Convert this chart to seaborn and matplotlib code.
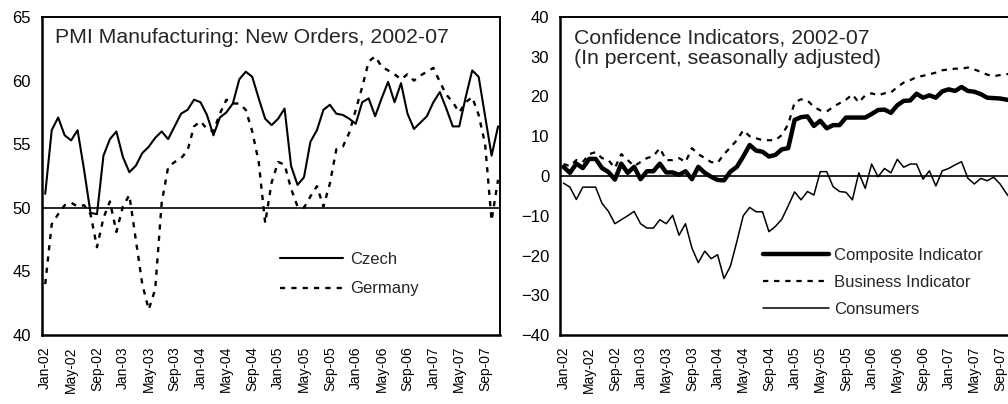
import numpy as np
import pandas as pd
import matplotlib
matplotlib.use("Agg")
import matplotlib.pyplot as plt
import seaborn as sns

tick_labels = ["Jan-02", "May-02", "Sep-02", "Jan-03", "May-03", "Sep-03",
               "Jan-04", "May-04", "Sep-04", "Jan-05", "May-05", "Sep-05",
               "Jan-06", "May-06", "Sep-06", "Jan-07", "May-07", "Sep-07"]

czech = [51.1, 56.1, 57.1, 55.7, 55.3, 56.1, 53.0, 49.6, 49.5, 54.1,
         55.4, 56.0, 54.0, 52.8, 53.3, 54.3, 54.8, 55.5, 56.0, 55.4,
         56.4, 57.4, 57.7, 58.5, 58.3, 57.3, 55.7, 57.1, 57.5, 58.2,
         60.1, 60.7, 60.3, 58.6, 57.0, 56.5, 57.0, 57.8, 53.3, 51.8,
         52.4, 55.2, 56.1, 57.7, 58.1, 57.4, 57.3, 57.0, 56.6, 58.3,
         58.6, 57.2, 58.6, 59.9, 58.3, 59.8, 57.4, 56.2, 56.7, 57.2,
         58.3, 59.1, 57.8, 56.4, 56.4, 58.7, 60.8, 60.3, 57.2, 54.1,
         56.4]

germany = [44.0, 48.7, 49.5, 50.2, 50.4, 50.1, 50.2, 49.5, 46.9, 49.2,
           50.5, 48.1, 50.1, 51.0, 47.5, 44.0, 42.0, 43.6, 50.4, 53.2,
           53.6, 53.9, 54.5, 56.4, 56.8, 56.2, 56.0, 57.4, 58.5, 58.2,
           58.2, 57.7, 56.0, 53.6, 48.8, 52.0, 53.6, 53.4, 51.5, 50.1,
           50.0, 50.9, 51.7, 50.1, 51.9, 54.6, 54.8, 55.9, 57.7, 59.5,
           61.5, 61.9, 61.1, 60.8, 60.5, 60.1, 60.5, 60.0, 60.4, 60.7,
           61.0, 59.9, 58.9, 58.3, 57.5, 58.3, 58.7, 57.3, 55.0, 49.0,
           52.2]

composite = [2.3, 0.8, 3.1, 2.0, 4.3, 4.3, 2.0, 1.0, -0.9, 3.1,
             0.8, 2.3, -0.8, 1.2, 1.2, 3.1, 0.9, 0.9, 0.3, 1.2,
             -0.8, 2.3, 0.8, -0.2, -1.0, -1.1, 1.1, 2.3, 4.9, 7.8,
             6.4, 6.1, 4.9, 5.3, 6.7, 7.0, 14.1, 14.8, 15.0, 12.6,
             13.9, 12.0, 12.8, 12.8, 14.7, 14.7, 14.7, 14.7, 15.6, 16.6,
             16.7, 15.9, 17.8, 18.9, 19.0, 20.7, 19.7, 20.3, 19.7, 21.3,
             21.8, 21.4, 22.4, 21.4, 21.2, 20.6, 19.7, 19.6, 19.5, 19.2,
             19.0]

business = [3.0, 2.5, 4.0, 3.5, 5.5, 6.0, 4.5, 4.0, 2.0, 5.5,
            4.0, 2.5, 3.5, 4.5, 5.0, 7.0, 4.0, 4.0, 4.5, 3.5,
            7.0, 5.5, 4.5, 3.5, 3.3, 5.5, 7.2, 9.0, 11.5, 10.0,
            9.5, 9.0, 9.0, 9.0, 10.3, 13.0, 18.5, 19.3, 19.0, 17.4,
            16.5, 16.2, 17.4, 18.3, 19.2, 20.5, 18.5, 20.3, 20.8, 20.3,
            20.8, 21.0, 22.4, 23.5, 24.1, 24.9, 25.2, 25.6, 26.0, 26.6,
            26.8, 27.0, 27.0, 27.3, 26.8, 26.2, 25.5, 25.1, 25.4, 25.6,
            25.8]

consumers = [-1.8, -2.8, -5.9, -2.8, -2.8, -2.8, -6.9, -8.9, -12.0, -11.0,
             -10.0, -8.9, -12.0, -13.1, -13.1, -11.0, -12.0, -9.9, -14.9, -12.0,
             -18.1, -21.8, -18.9, -20.8, -19.8, -25.8, -22.7, -16.5, -10.0, -7.9,
             -9.0, -9.0, -14.0, -12.7, -10.9, -7.5, -4.0, -6.0, -3.9, -4.8,
             1.1, 1.1, -2.7, -3.9, -4.1, -6.0, 0.8, -3.1, 3.0, -0.2,
             1.9, 0.8, 4.2, 2.2, 3.0, 3.0, -0.8, 1.3, -2.5, 1.3,
             1.9, 2.8, 3.6, -0.6, -2.0, -0.6, -1.2, -0.3, -2.0, -4.4,
             -6.5]

sns.set_style("white")
plt.rcParams['font.family'] = ['Liberation Sans', 'DejaVu Sans']

W, H = 1008, 404
fig = plt.figure(figsize=(W / 100, H / 100), dpi=100)
ax1 = fig.add_axes([42 / W, 69 / H, 458 / W, 318 / H])
ax2 = fig.add_axes([560.3 / W, 69 / H, 454.5 / W, 318 / H])

n = len(czech)
m = np.arange(n)
df1 = pd.DataFrame({"m": m, "Czech": czech, "Germany": germany})
df2 = pd.DataFrame({"m": m, "Composite Indicator": composite,
                    "Business Indicator": business, "Consumers": consumers})

ax1.axhline(50, color="black", lw=1.2, zorder=1)
sns.lineplot(data=df1, x="m", y="Czech", ax=ax1, color="black", lw=1.5,
             label="Czech")
sns.lineplot(data=df1, x="m", y="Germany", ax=ax1, color="black", lw=1.7,
             linestyle=(0, (2.2, 2.6)), label="Germany")

ax2.axhline(0, color="black", lw=1.2, zorder=1)
sns.lineplot(data=df2, x="m", y="Composite Indicator", ax=ax2, color="black",
             lw=3.2, label="Composite Indicator")
sns.lineplot(data=df2, x="m", y="Business Indicator", ax=ax2, color="black",
             lw=1.6, linestyle=(0, (2.4, 2.6)), label="Business Indicator")
sns.lineplot(data=df2, x="m", y="Consumers", ax=ax2, color="black", lw=1.1,
             label="Consumers")

major = np.arange(0, n, 4)[:len(tick_labels)]
for ax in (ax1, ax2):
    ax.set_xlim(-0.5, 70.3)
    ax.set_xticks(major)
    ax.set_xticklabels(tick_labels, rotation=90, fontsize=10)
    ax.set_xticks(m, minor=True)
    ax.tick_params(axis="x", which="both", direction="in", length=3.2,
                   width=0.9, color="black", pad=8, labelcolor="black")
    ax.tick_params(axis="y", which="major", direction="in", length=4,
                   width=1.0, color="black", pad=8, labelsize=12,
                   labelcolor="black")
    ax.set_xlabel("")
    ax.set_ylabel("")
    for s in ax.spines.values():
        s.set_color("black")
        s.set_linewidth(1.4)
    ax.spines["left"].set_linewidth(1.8)
    ax.spines["bottom"].set_linewidth(1.8)

ax1.set_ylim(40, 65)
ax1.set_yticks(np.arange(40, 66, 5))
ax2.set_ylim(-40, 40)
ax2.set_yticks(np.arange(-40, 41, 10))

ax1.text(0.028, 0.965, "PMI Manufacturing: New Orders, 2002-07",
         transform=ax1.transAxes, ha="left", va="top", fontsize=15.3)
ax2.text(0.031, 0.965, "Confidence Indicators, 2002-07\n(In percent, seasonally adjusted)",
         transform=ax2.transAxes, ha="left", va="top", fontsize=15.3,
         linespacing=1.15)

ax1.legend(loc="upper left", bbox_to_anchor=(0.52, 0.26), frameon=False,
           fontsize=12, handlelength=3.8, handletextpad=0.4,
           labelspacing=0.85, borderpad=0, borderaxespad=0)
ax2.legend(loc="upper left", bbox_to_anchor=(0.446, 0.275), frameon=False,
           fontsize=12, handlelength=3.95, handletextpad=0.3,
           labelspacing=0.74, borderpad=0, borderaxespad=0)

fig.savefig("out.png", dpi=100)
